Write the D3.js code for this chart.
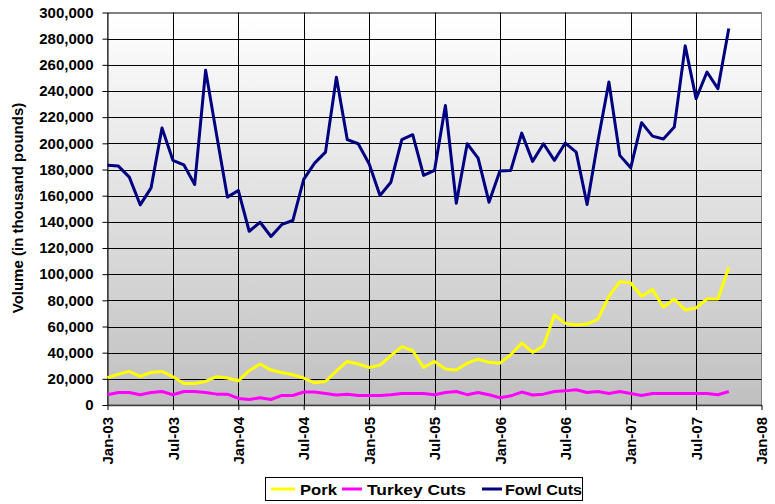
<!DOCTYPE html>
<html><head><meta charset="utf-8">
<script src="https://cdn.jsdelivr.net/npm/d3@7"></script>
<style>body{margin:0;background:#fff}svg{display:block}text{font-family:"Liberation Sans",Arial,sans-serif;font-weight:bold;fill:#000}</style>
</head><body><svg id="c" width="775" height="504"></svg>
<script>
const months = ["Jan-03","Feb-03","Mar-03","Apr-03","May-03","Jun-03","Jul-03","Aug-03","Sep-03","Oct-03","Nov-03","Dec-03",
"Jan-04","Feb-04","Mar-04","Apr-04","May-04","Jun-04","Jul-04","Aug-04","Sep-04","Oct-04","Nov-04","Dec-04",
"Jan-05","Feb-05","Mar-05","Apr-05","May-05","Jun-05","Jul-05","Aug-05","Sep-05","Oct-05","Nov-05","Dec-05",
"Jan-06","Feb-06","Mar-06","Apr-06","May-06","Jun-06","Jul-06","Aug-06","Sep-06","Oct-06","Nov-06","Dec-06",
"Jan-07","Feb-07","Mar-07","Apr-07","May-07","Jun-07","Jul-07","Aug-07","Sep-07","Oct-07"];
const pork = [20800,23600,25700,21800,24900,25700,21600,16500,16500,18000,21600,20600,
18500,26200,31300,26700,24900,23100,20600,17000,18000,26000,33300,31300,
28700,30500,37700,44600,41500,28700,33300,27500,26700,32000,35100,32600,
32000,38400,47400,40200,45300,68800,62400,61200,61900,65700,83100,94300,
93300,83100,88200,74700,81000,72600,74200,81000,81000,105300];
const turkey = [7800,9600,9600,7800,9600,10300,7800,10300,10300,9600,8300,8300,
5000,4200,5500,4200,7300,7300,9900,9900,8800,7600,8300,7300,
7300,7300,7900,8800,8800,8800,7900,9600,10300,7900,9600,7800,
5500,7000,9900,7600,8300,10300,10800,11600,9600,10300,8800,10300,
8800,7300,8800,8800,8800,8800,8800,8800,7800,10300];
const fowl = [183300,182600,174200,153000,166000,211700,187000,183600,168600,255800,207000,158900,
164000,132800,139700,128800,138000,141000,172400,184900,193300,250500,202800,199700,
184400,160100,170300,202800,206600,175500,179300,229000,154200,199700,188700,155000,
178800,179300,207800,186200,199700,187000,200200,193300,153300,202000,246900,190800,
181300,215800,205500,203300,212400,274500,234200,254500,241800,287700];
const tickLabels = ["Jan-03","Jul-03","Jan-04","Jul-04","Jan-05","Jul-05","Jan-06","Jul-06","Jan-07","Jul-07","Jan-08"];
const seriesNames = ["Pork","Turkey Cuts","Fowl Cuts"];
const seriesColors = ["#ffff00","#ff00ff","#000080"];

const svg = d3.select("#c");
const L = 107.5, R = 761.5, T = 12.5, B = 405;
const x = d3.scaleLinear().domain([0, 60]).range([L, R]);
const y = d3.scaleLinear().domain([0, 300000]).range([B, T]);

const defs = svg.append("defs");
const g = defs.append("linearGradient").attr("id","bg").attr("x1",0).attr("y1",0).attr("x2",0).attr("y2",1);
g.append("stop").attr("offset","0%").attr("stop-color","#ffffff");
g.append("stop").attr("offset","100%").attr("stop-color","#c0c0c0");
svg.append("rect").attr("x",L).attr("y",T).attr("width",R-L).attr("height",B-T).attr("fill","url(#bg)").attr("stroke","#808080");

// gridlines
const yt = d3.range(0, 300001, 20000);
svg.append("g").selectAll("line").data(yt.slice(1)).join("line")
  .attr("x1",L).attr("x2",R).attr("y1",d=>Math.round(y(d))+0.5).attr("y2",d=>Math.round(y(d))+0.5)
  .attr("stroke",d=>d===300000?"#808080":"#000").attr("stroke-width",1);
const xt = d3.range(0, 61, 6);
svg.append("g").selectAll("line").data(xt.slice(1,-1)).join("line")
  .attr("y1",T).attr("y2",B).attr("x1",d=>Math.round(x(d))+0.5).attr("x2",d=>Math.round(x(d))+0.5)
  .attr("stroke","#000").attr("stroke-width",1);

// axes
const yAxis = d3.axisLeft(y).tickValues(yt).tickSize(5).tickPadding(9).tickFormat(d3.format(",")).tickSizeOuter(0);
const ya = svg.append("g").attr("transform",`translate(${L},0)`).call(yAxis);
ya.select(".domain").attr("stroke","#000");
ya.selectAll(".tick line").attr("stroke","#000");
ya.selectAll("text").style("font-size","15px").attr("fill","#000");

const xAxis = d3.axisBottom(x).tickValues(xt).tickSize(5).tickFormat((d,i)=>tickLabels[i]).tickSizeOuter(0);
const xa = svg.append("g").attr("transform",`translate(0,${B})`).call(xAxis);
xa.select(".domain").attr("stroke","#404040").attr("stroke-width",1.5);
xa.selectAll(".tick line").attr("stroke","#000");
xa.selectAll("text").style("font-size","15px").attr("fill","#000")
  .attr("transform","rotate(-90)").attr("text-anchor","end").attr("x",-12).attr("y",0).attr("dy","0.35em");

// y title
svg.append("text").attr("transform","translate(23,208) rotate(-90)").attr("text-anchor","middle")
  .style("font-size","15px").text("Volume (in thousand pounds)");

// lines
const data = [pork, turkey, fowl];
const line = d3.line().x((d,i)=>x(i)).y(d=>y(d));
data.forEach((s,k)=>{
  svg.append("path").datum(s).attr("d",line).attr("fill","none")
    .attr("stroke",seriesColors[k]).attr("stroke-width",3).attr("stroke-linejoin","round");
});

// legend
svg.append("rect").attr("x",265.5).attr("y",477.5).attr("width",317).attr("height",23).attr("fill","#fff").attr("stroke","#000");
const legLine = [[271,295],[342,362],[482,502]];
const legText = [[300,37],[367,99],[505,77]];
seriesNames.forEach((n,k)=>{
  svg.append("line").attr("x1",legLine[k][0]).attr("x2",legLine[k][1]).attr("y1",489).attr("y2",489)
    .attr("stroke",seriesColors[k]).attr("stroke-width",3);
  svg.append("text").attr("x",legText[k][0]).attr("y",494.5).style("font-size","15px")
    .attr("textLength",legText[k][1]).attr("lengthAdjust","spacingAndGlyphs").text(n);
});
</script></body></html>
